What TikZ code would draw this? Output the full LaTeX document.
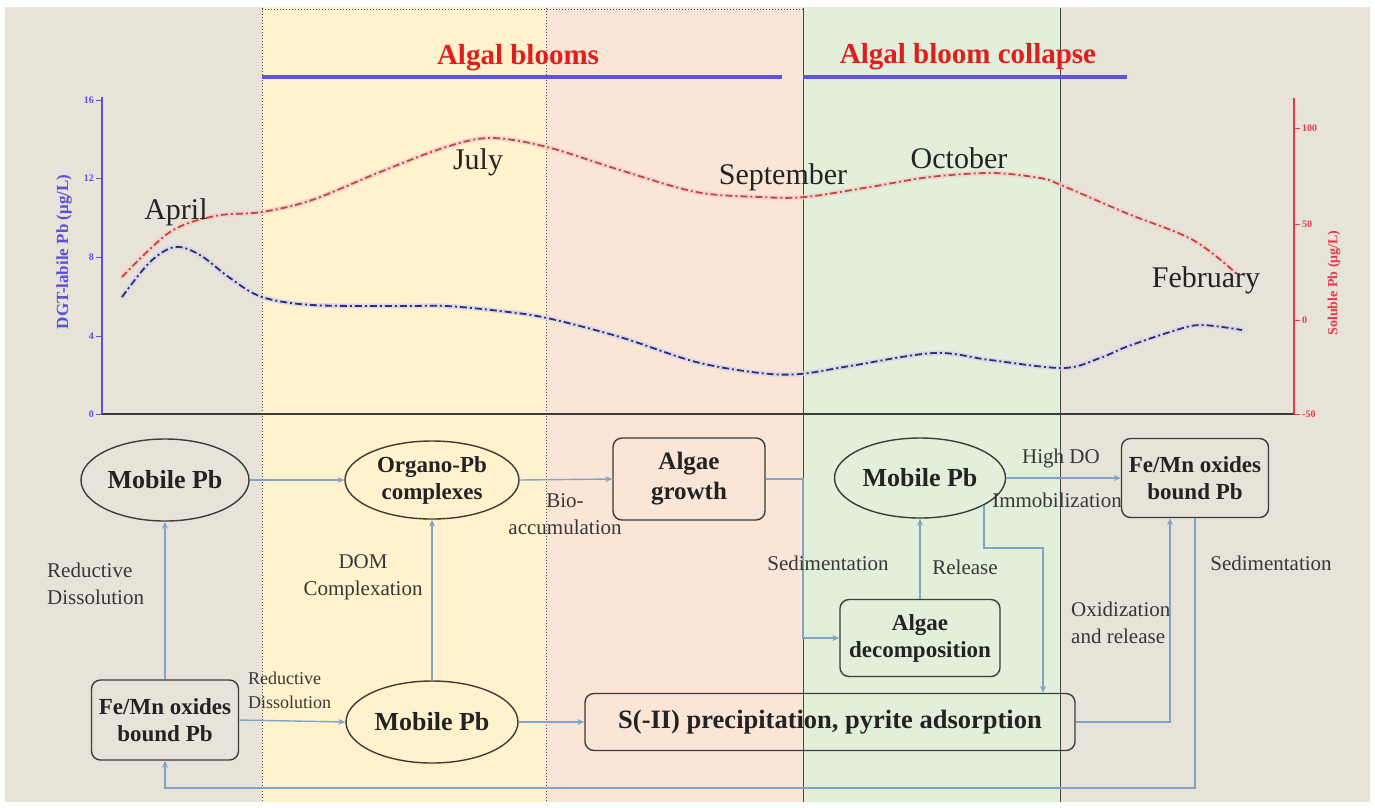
\documentclass[tikz,border=0pt]{standalone}
\usepackage{fontspec}
\setmainfont{Liberation Serif}
\usetikzlibrary{shapes.geometric,arrows.meta}
\definecolor{bgbeige}{RGB}{231,227,216}
\definecolor{byellow}{RGB}{255,242,204}
\definecolor{bpink}{RGB}{251,229,214}
\definecolor{bgreen}{RGB}{226,239,218}
\definecolor{connblue}{RGB}{128,163,198}
\definecolor{headred}{RGB}{225,30,30}
\definecolor{headblue}{RGB}{95,85,215}
\definecolor{axblue}{RGB}{90,80,220}
\definecolor{axred}{RGB}{225,60,75}
\definecolor{curveblue}{RGB}{45,45,130}
\definecolor{curvered}{RGB}{195,70,60}
\definecolor{textdark}{RGB}{35,35,35}
\definecolor{labelgray}{RGB}{55,55,55}
\definecolor{nodeborder}{RGB}{60,60,60}
\definecolor{sepgray}{RGB}{70,70,70}
\begin{document}
\begin{tikzpicture}[x=1pt,y=-1pt,
  ell/.style={ellipse, draw=nodeborder, line width=1.4pt, inner sep=0pt, align=center, text=textdark,
              font=\fontsize{23}{27}\selectfont\bfseries},
  rbox/.style={rectangle, rounded corners=9pt, draw=nodeborder, line width=1.4pt, inner sep=0pt, align=center, text=textdark,
              font=\fontsize{23}{27}\selectfont\bfseries},
  bigtext/.style={font=\fontsize{26}{30}\selectfont\bfseries},
  conn/.style={draw=connblue, line width=1.4pt, -{Stealth[length=7pt,width=6pt]}},
  lbl/.style={text=labelgray, font=\fontsize{21}{27}\selectfont, align=center, inner sep=0pt},
  smalllbl/.style={text=labelgray, font=\fontsize{18}{24}\selectfont, align=left, inner sep=0pt},
  month/.style={text=textdark, font=\fontsize{30}{32}\selectfont, inner sep=0pt},
  headtext/.style={text=headred, font=\fontsize{29}{32}\selectfont\bfseries, inner sep=0pt},
  ltick/.style={text=axblue, font=\fontsize{10}{12}\selectfont\bfseries, inner sep=0pt, anchor=east},
  rtick/.style={text=axred, font=\fontsize{10}{12}\selectfont\bfseries, inner sep=0pt, anchor=west},
  sepdot/.style={draw=sepgray, line width=1pt, dotted},
  sepsolid/.style={draw=sepgray, line width=0.8pt}
]
\useasboundingbox (0,0) rectangle (1375,807);
% backgrounds
\fill[white] (0,0) rectangle (1375,807);
\fill[bgbeige] (5,7) rectangle (262,802);
\fill[byellow] (262,7) rectangle (546,802);
\fill[bpink] (546,7) rectangle (803,802);
\fill[bgreen] (803,7) rectangle (1060,802);
\fill[bgbeige] (1060,7) rectangle (1370,802);
% separators
\draw[sepdot] (262,8) -- (262,802);
\draw[sepdot] (546,8) -- (546,802);
\draw[sepdot] (262,9) -- (803,9);
\draw[sepsolid] (803,8) -- (803,802);
\draw[sepsolid] (1060,8) -- (1060,802);
% headings
\node[headtext] (h1) at (518,58) {Algal blooms};
\node[headtext] (h2) at (968,57) {Algal bloom collapse};
\draw[headblue, line width=4pt] (262,77) -- (782,77);
\draw[headblue, line width=4pt] (803,77) -- (1127,77);
% axes
\draw[axblue, line width=1.5pt] (102,97) -- (102,414);
\foreach \yy/\tl in {100/16,178/12,257/8,336/4,414/0}{
  \draw[axblue, line width=1pt] (96,\yy) -- (102,\yy);
  \node[ltick] at (94,\yy) {\tl};
}
\draw[axred, line width=1.5pt] (1294,98) -- (1294,414);
\foreach \yy/\tl in {128/100,224/50,320/0,414/-50}{
  \draw[axred, line width=1pt] (1294,\yy) -- (1300,\yy);
  \node[rtick] at (1302,\yy) {\tl};
}
\draw[nodeborder, line width=2pt] (102,414) -- (1294,414);
\node[rotate=90, text=axblue, font=\fontsize{17}{20}\selectfont\bfseries] (ylab) at (64,252) {DGT-labile Pb (μg/L)};
\node[rotate=90, text=axred, font=\fontsize{14}{16}\selectfont\bfseries] (ylab2) at (1334,283) {Soluble Pb (μg/L)};
% curves
\draw[curvered!25, line width=5pt, line cap=round, opacity=0.8] plot[smooth, tension=0.55] coordinates {
 (122,277) (170,232) (215,216) (262,212) (312,200) (380,172) (446,147) (491,138) (547,147) (620,170) (696,192)
 (760,197) (805,197) (870,187) (930,177) (992,173) (1040,178) (1061,185) (1126,213) (1193,240) (1238,275)};
\draw[curvered, line width=1.8pt, dash pattern=on 7pt off 3pt on 2pt off 3pt] plot[smooth, tension=0.55] coordinates {
 (122,277) (170,232) (215,216) (262,212) (312,200) (380,172) (446,147) (491,138) (547,147) (620,170) (696,192)
 (760,197) (805,197) (870,187) (930,177) (992,173) (1040,178) (1061,185) (1126,213) (1193,240) (1238,275)};
\draw[curveblue!20, line width=5pt, line cap=round, opacity=0.8] plot[smooth, tension=0.55] coordinates {
 (122,297) (150,262) (175,247) (200,255) (230,278) (262,297) (312,305) (400,306) (446,306) (500,311) (547,318)
 (620,337) (696,362) (760,373) (800,374) (850,366) (934,353) (990,360) (1063,368) (1100,358) (1126,347) (1170,332) (1200,325) (1242,330)};
\draw[curveblue, line width=1.8pt, dash pattern=on 7pt off 3pt on 2pt off 3pt] plot[smooth, tension=0.55] coordinates {
 (122,297) (150,262) (175,247) (200,255) (230,278) (262,297) (312,305) (400,306) (446,306) (500,311) (547,318)
 (620,337) (696,362) (760,373) (800,374) (850,366) (934,353) (990,360) (1063,368) (1100,358) (1126,347) (1170,332) (1200,325) (1242,330)};
% month labels
\node[month] (apr) at (176,212) {April};
\node[month] (jul) at (478,162) {July};
\node[month] (sep) at (783,177) {September};
\node[month] (oct) at (959,158) {October};
\node[month] (feb) at (1206,280) {February};
% nodes
\node[ell, bigtext, minimum width=168pt, minimum height=82pt] (mp1) at (165,480) {Mobile Pb};
\node[ell, minimum width=174pt, minimum height=78pt] (org) at (432,480) {Organo-Pb\\complexes};
\node[rbox, font=\fontsize{25}{30}\selectfont\bfseries, minimum width=152pt, minimum height=82pt] (ag) at (689,479) {Algae\\growth};
\node[ell, bigtext, minimum width=171pt, minimum height=80pt] (mp2) at (920,478) {Mobile Pb};
\node[rbox, minimum width=147pt, minimum height=79pt] (fr) at (1195,478) {Fe/Mn oxides\\bound Pb};
\node[rbox, minimum width=160pt, minimum height=77pt] (ad) at (920,638) {Algae\\decomposition};
\node[rbox, font=\fontsize{26.5}{30}\selectfont\bfseries, minimum width=490pt, minimum height=57pt] (sp) at (830,722) {S(-II) precipitation, pyrite adsorption};
\node[rbox, minimum width=147pt, minimum height=80pt] (fl) at (165,720) {Fe/Mn oxides\\bound Pb};
\node[ell, bigtext, minimum width=172pt, minimum height=82pt] (mp3) at (432,722) {Mobile Pb};
% helper coordinates
\coordinate (xsed) at (803,0);
\coordinate (c6) at (1043,548);
\coordinate (x7) at (1170,0);
\coordinate (c8) at (165,788);
% connectors
\draw[conn] (mp1.east) -- (org.west);
\draw[conn] (org.east) -- (ag.west);
\draw[conn] (ag.east) -- (ag.east -| xsed) |- (ad.west);
\draw[conn] (ad.north) -- (mp2.south);
\draw[conn, line width=2pt] (mp2.east) -- (fr.west);
\draw[conn] (mp2.-23) |- (c6) -- (c6 |- sp.north);
\draw[conn] (sp.east) -| (x7 |- fr.south);
\draw[conn] (fr.south) |- (c8) -- (fl.south);
\draw[conn] (fl.north) -- (mp1.south);
\draw[conn] (fl.east) -- (mp3.west);
\draw[conn] (mp3.north) -- (org.south);
\draw[conn] (mp3.east) -- (sp.west);
% connector labels
\node[lbl] (lbio) at (565,514) {Bio-\\accumulation};
\node[lbl] (lsed1) at (828,563) {Sedimentation};
\node[lbl] (lrel) at (965,567) {Release};
\node[lbl] (lhdo) at (1061,458) {High DO};
\node[lbl] (limm) at (1057,500) {Immobilization};
\node[lbl, align=left, anchor=west] (loxi) at (1071,623) {Oxidization\\and release};
\node[lbl] (lsed2) at (1271,563) {Sedimentation};
\node[lbl, align=left, anchor=west] (lred1) at (47,584) {Reductive\\Dissolution};
\node[smalllbl, anchor=west] (lred2) at (248,690) {Reductive\\Dissolution};
\node[lbl] (ldom) at (363,577) {DOM\\Complexation};
\end{tikzpicture}
\end{document}
